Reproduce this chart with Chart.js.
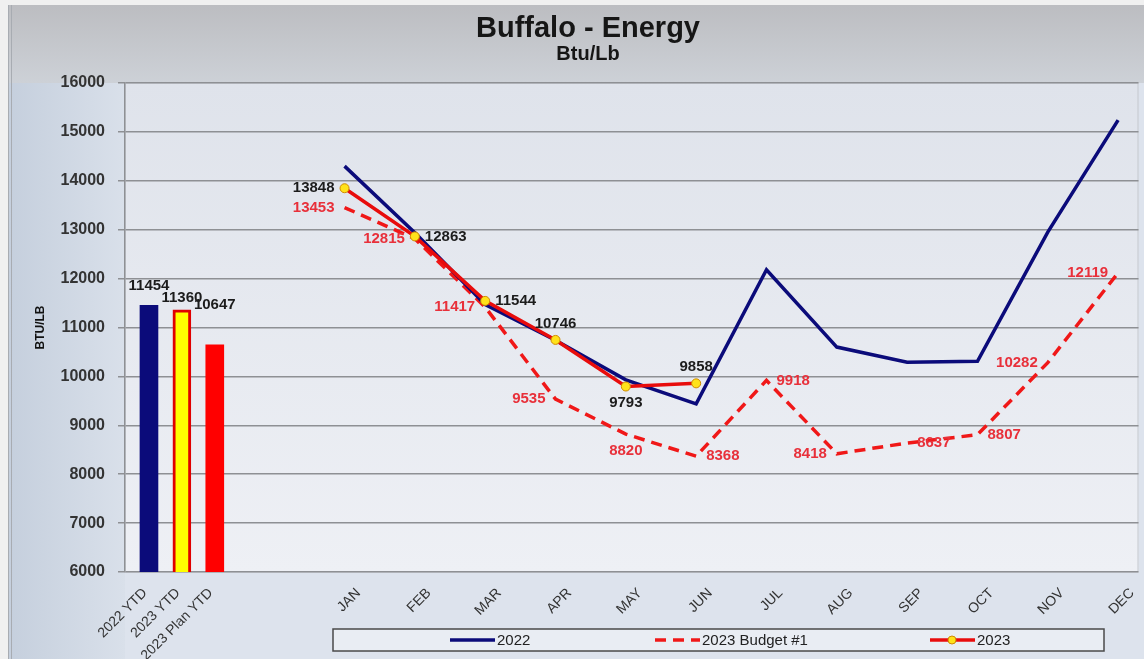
<!DOCTYPE html>
<html>
<head>
<meta charset="utf-8">
<script src="https://cdn.jsdelivr.net/npm/chart.js@4.4.0/dist/chart.umd.min.js"></script>
<style>
  html, body { margin: 0; padding: 0; background: #f0f0f0; }
  #wrap { width: 1144px; height: 659px; }
</style>
</head>
<body>
<div id="wrap"><canvas id="energy"></canvas></div>
<script>
const barLabels = ['2022 YTD', '2023 YTD', '2023 Plan YTD'];
const barValues = [11454, 11360, 10647];

const months = ['JAN', 'FEB', 'MAR', 'APR', 'MAY', 'JUN', 'JUL', 'AUG', 'SEP', 'OCT', 'NOV', 'DEC'];
const actual2022 = [14300, 12940, 11470, 10740, 9930, 9440, 12180, 10600, 10290, 10310, 12950, 15240];
const budget2023 = [13453, 12815, 11417, 9535, 8820, 8368, 9918, 8418, 8637, 8807, 10282, 12119];
const actual2023 = [13848, 12863, 11544, 10746, 9793, 9858];

// where each value label sits next to its point
const budgetLabelPos = ['left', 'left', 'left', 'left', 'below', 'right', 'right', 'left', 'right', 'right', 'left', 'left'];
const actualLabelPos = ['left', 'right', 'right', 'above', 'below', 'above'];
const barLabelPos = ['above', 'above', 'above'];
const barLabelLift = [19, 12, 40];

const NAVY = '#0b0b7a';
const RED = '#f01818';
const FONT = '"Liberation Sans", Arial, sans-serif';

function points(values) {
    return values.map((v, i) => ({ x: i, y: v }));
}

const framePlugin = {
    id: 'frame',
    beforeDraw(chart) {
        const ctx = chart.ctx;
        const area = chart.chartArea;
        ctx.save();
        ctx.fillStyle = '#f0f0f0';
        ctx.fillRect(0, 0, chart.width, chart.height);

        // lower part of the frame
        ctx.fillStyle = '#dde3ed';
        ctx.fillRect(8, area.top, chart.width - 8, chart.height - area.top);
        let g = ctx.createLinearGradient(8, 0, area.left, 0);
        g.addColorStop(0, '#c5cfdd');
        g.addColorStop(1, '#d9e0ea');
        ctx.fillStyle = g;
        ctx.fillRect(8, area.top, area.left - 8, chart.height - area.top);

        // title band
        g = ctx.createLinearGradient(0, 5, 0, area.top);
        g.addColorStop(0, '#bcbdc1');
        g.addColorStop(1, '#cdd1d7');
        ctx.fillStyle = g;
        ctx.fillRect(8, 5, chart.width - 8, area.top - 5);

        ctx.strokeStyle = '#a8acb2';
        ctx.lineWidth = 1;
        ctx.beginPath();
        ctx.moveTo(8.5, 5);
        ctx.lineTo(8.5, chart.height);
        ctx.moveTo(11.5, 5);
        ctx.lineTo(11.5, chart.height);
        ctx.stroke();

        // plot area
        g = ctx.createLinearGradient(0, area.top, 0, area.bottom);
        g.addColorStop(0, '#dfe3eb');
        g.addColorStop(1, '#eef0f5');
        ctx.fillStyle = g;
        ctx.fillRect(area.left, area.top, area.right - area.left, area.bottom - area.top);
        ctx.strokeStyle = '#c4c8ce';
        ctx.strokeRect(area.left, area.top, area.right - area.left - 0.5, area.bottom - area.top);
        ctx.restore();
    }
};

const valueLabelPlugin = {
    id: 'valueLabels',
    afterDatasetsDraw(chart) {
        const ctx = chart.ctx;
        ctx.save();
        ctx.font = 'bold 15px ' + FONT;
        chart.data.datasets.forEach((ds, di) => {
            if (!ds.labelPos) return;
            const meta = chart.getDatasetMeta(di);
            ctx.fillStyle = ds.labelColor;
            meta.data.forEach((el, i) => {
                const pos = ds.labelPos[i];
                const text = String(ds.data[i].y);
                let x = el.x, y = el.y;
                if (ds.type === 'bar') {
                    ctx.textAlign = 'center';
                    ctx.textBaseline = 'middle';
                    y -= ds.labelLift[i];
                } else if (pos === 'left') {
                    ctx.textAlign = 'right';
                    ctx.textBaseline = 'middle';
                    x -= 10;
                } else if (pos === 'right') {
                    ctx.textAlign = 'left';
                    ctx.textBaseline = 'middle';
                    x += 10;
                } else if (pos === 'above') {
                    ctx.textAlign = 'center';
                    ctx.textBaseline = 'bottom';
                    y -= 9;
                } else {
                    ctx.textAlign = 'center';
                    ctx.textBaseline = 'top';
                    y += 9;
                }
                ctx.fillText(text, x, y);
            });
        });
        ctx.restore();
    }
};

const legendBoxPlugin = {
    id: 'legendBox',
    afterDraw(chart) {
        const ctx = chart.ctx;
        const box = { left: 333, top: 629, right: 1104, bottom: 651 };
        const starts = [450, 655, 930];
        const items = ['2022', '2023 Budget #1', '2023'].map(name =>
            chart.data.datasets.find(ds => ds.label === name));
        ctx.save();
        ctx.fillStyle = '#e9edf3';
        ctx.fillRect(box.left, box.top, box.right - box.left, box.bottom - box.top);
        ctx.strokeStyle = '#4a4a4a';
        ctx.lineWidth = 1.5;
        ctx.strokeRect(box.left, box.top, box.right - box.left, box.bottom - box.top);
        const midY = (box.top + box.bottom) / 2;
        ctx.font = '15px ' + FONT;
        ctx.textBaseline = 'middle';
        ctx.textAlign = 'left';
        items.forEach((ds, i) => {
            const x = starts[i];
            ctx.strokeStyle = ds.borderColor;
            ctx.lineWidth = 3.5;
            ctx.setLineDash(ds.borderDash || []);
            ctx.beginPath();
            ctx.moveTo(x, midY);
            ctx.lineTo(x + 45, midY);
            ctx.stroke();
            ctx.setLineDash([]);
            if (ds.pointRadius > 0) {
                ctx.fillStyle = ds.pointBackgroundColor;
                ctx.strokeStyle = ds.pointBorderColor;
                ctx.lineWidth = 1;
                ctx.beginPath();
                ctx.arc(x + 22, midY, 4, 0, Math.PI * 2);
                ctx.fill();
                ctx.stroke();
            }
            ctx.fillStyle = '#222';
            ctx.fillText(ds.label, x + 47, midY + 1);
        });
        ctx.restore();
    }
};

const axisTicks = {
    autoSkip: false,
    minRotation: 45,
    maxRotation: 45,
    padding: 5,
    color: '#333',
    font: { family: FONT, size: 14 }
};

// keep the rotated labels from shrinking the plot area sideways
function noSidePadding(scale) {
    scale.height = 87;
    scale.paddingLeft = 0;
    scale.paddingRight = 0;
}

const chart = new Chart(
    document.getElementById('energy'),
    {
        data: {
            datasets: [
                {
                    type: 'line',
                    label: '2023',
                    data: points(actual2023),
                    xAxisID: 'x',
                    borderColor: '#e80c0c',
                    borderWidth: 3.5,
                    pointRadius: 4.5,
                    pointBackgroundColor: '#ffe21a',
                    pointBorderColor: '#d08a00',
                    pointBorderWidth: 1,
                    labelPos: actualLabelPos,
                    labelColor: '#1c1c1c'
                },
                {
                    type: 'line',
                    label: '2022',
                    data: points(actual2022),
                    xAxisID: 'x',
                    borderColor: NAVY,
                    borderWidth: 3.5,
                    pointRadius: 0
                },
                {
                    type: 'line',
                    label: '2023 Budget #1',
                    data: points(budget2023),
                    xAxisID: 'x',
                    borderColor: RED,
                    borderWidth: 3.5,
                    borderDash: [11, 7],
                    pointRadius: 0,
                    labelPos: budgetLabelPos,
                    labelColor: '#e8303a'
                },
                {
                    type: 'bar',
                    label: 'YTD',
                    data: points(barValues),
                    xAxisID: 'xb',
                    barThickness: 18,
                    backgroundColor: [NAVY, '#ffff00', '#ff0000'],
                    borderColor: [NAVY, '#e00000', '#ff0000'],
                    borderWidth: [0, 3, 0],
                    borderSkipped: false,
                    labelPos: barLabelPos,
                    labelLift: barLabelLift,
                    labelColor: '#1c1c1c'
                }
            ]
        },
        plugins: [framePlugin, valueLabelPlugin, legendBoxPlugin],
        options: {
            responsive: true,
            maintainAspectRatio: false,
            animation: false,
            layout: {
                padding: { left: 33, right: 1, top: 5, bottom: 0 }
            },
            plugins: {
                legend: { display: false },
                tooltip: { enabled: false },
                title: {
                    display: true,
                    text: 'Buffalo - Energy',
                    color: '#161616',
                    font: { family: FONT, size: 29, weight: 'bold', lineHeight: 1 },
                    padding: { top: 9, bottom: 0 }
                },
                subtitle: {
                    display: true,
                    text: 'Btu/Lb',
                    color: '#161616',
                    font: { family: FONT, size: 20, weight: 'bold', lineHeight: 1 },
                    padding: { top: 1, bottom: 19 }
                }
            },
            scales: {
                y: {
                    min: 6000,
                    max: 16000,
                    afterFit: scale => { scale.width = 92; },
                    ticks: {
                        stepSize: 1000,
                        color: '#333',
                        padding: 13,
                        font: { family: FONT, size: 16, weight: 'bold' },
                        callback: v => String(v)
                    },
                    grid: { color: '#8e9094', lineWidth: 1.5, tickLength: 7 },
                    border: { color: '#8e9094', width: 1.5 },
                    title: {
                        display: true,
                        text: 'BTU/LB',
                        color: '#111',
                        padding: 0,
                        font: { family: FONT, size: 12, weight: 'bold' }
                    }
                },
                // the YTD bars share the bottom row with the months, on its left part
                xb: {
                    type: 'linear',
                    position: 'bottom',
                    stack: 'bottom',
                    stackWeight: 120,
                    offset: false,
                    min: -0.455,
                    max: 3.176,
                    afterBuildTicks: scale => { scale.ticks = barLabels.map((l, i) => ({ value: i })); },
                    afterFit: noSidePadding,
                    grid: { display: false },
                    border: { display: false },
                    ticks: Object.assign({}, axisTicks, {
                        labelOffset: 5,
                        callback: v => barLabels[v] ?? ''
                    })
                },
                x: {
                    type: 'linear',
                    position: 'bottom',
                    stack: 'bottom',
                    stackWeight: 898,
                    offset: false,
                    min: -1.423,
                    max: 11.29,
                    afterBuildTicks: scale => { scale.ticks = months.map((m, i) => ({ value: i })); },
                    afterFit: noSidePadding,
                    grid: { display: false },
                    border: { display: false },
                    ticks: Object.assign({}, axisTicks, {
                        labelOffset: 14,
                        callback: v => months[v] ?? ''
                    })
                }
            }
        }
    }
);
</script>
</body>
</html>
